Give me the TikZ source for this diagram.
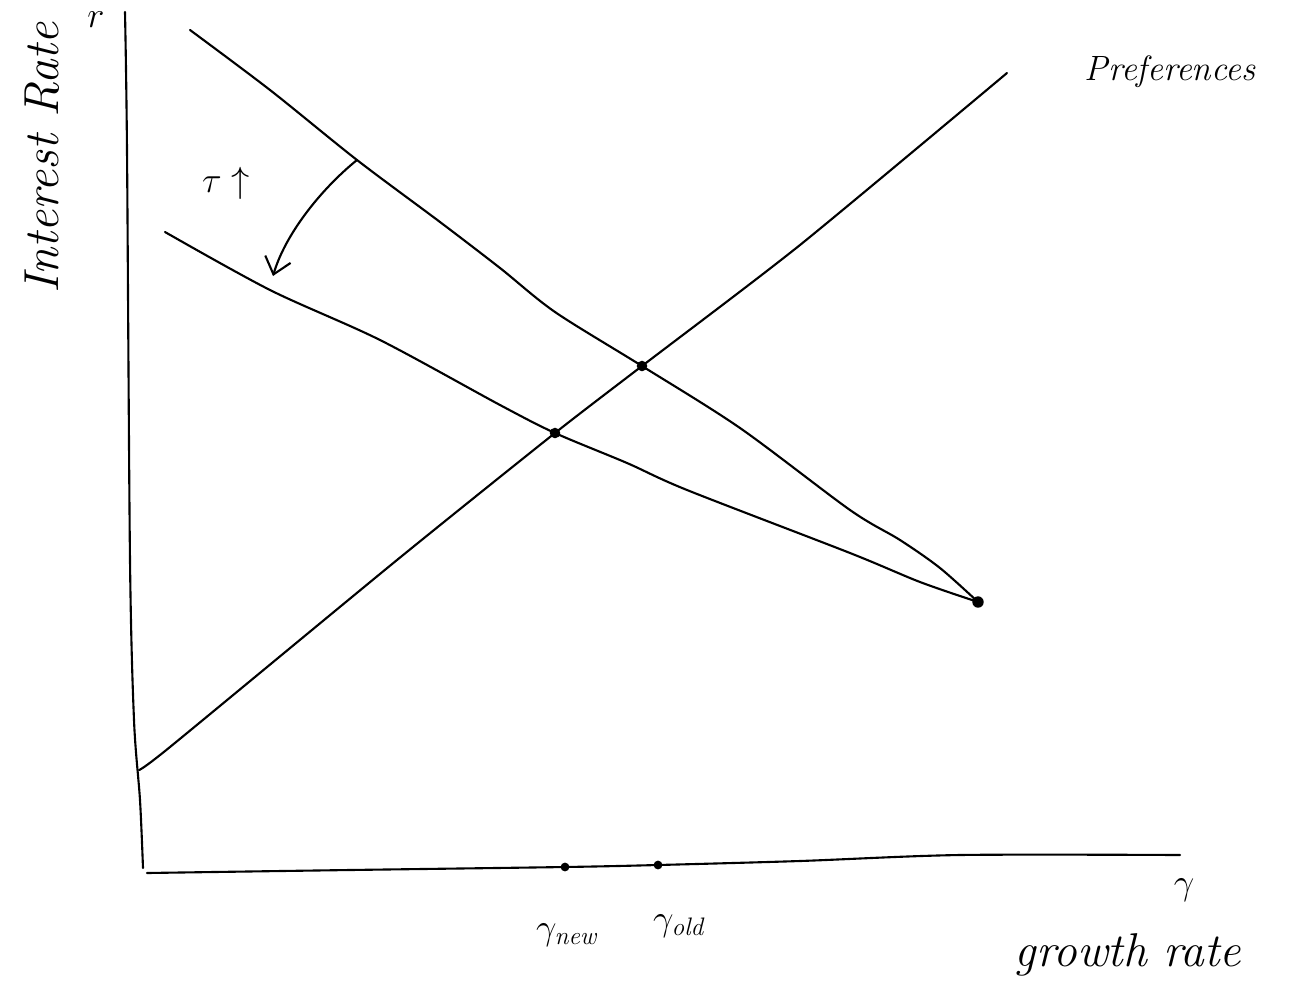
\documentclass[tikz,border=0pt]{standalone}
\usetikzlibrary{arrows.meta}
\begin{document}
\begin{tikzpicture}[x=0.02cm,y=-0.02cm,
  curve/.style={line width=1.2pt,line cap=round,line join=round},
  dotnode/.style={circle,fill=black,inner sep=0pt,minimum size=6pt},
  lbl/.style={font=\fontsize{20}{24}\selectfont\itshape},
  sym/.style={font=\fontsize{22}{26}\selectfont}]
\useasboundingbox (0,0) rectangle (1291,994);
% equilibrium points
\node[dotnode] (eqnew) at (555,433) {};
\node[dotnode] (eqold) at (642,366) {};
\node[dotnode,minimum size=6.5pt] (corner) at (978,602) {};
\node[dotnode,minimum size=5pt] (gnew) at (565,867) {};
\node[dotnode,minimum size=5pt] (gold) at (658,865) {};
% axes
\draw[curve] plot[smooth,tension=0.5] coordinates {(125,12) (127,150) (130,560) (134,720) (140,800) (143,868)};
\draw[curve] plot[smooth,tension=0.5] coordinates {(147,873) (350,870) (565,867) (658,865) (800,861) (960,855) (1180,855)};
% upward line
\draw[curve] plot[smooth,tension=0.4] coordinates {(139,770) (170,747) (397,560) (555,433) (642,366) (800,245) (1007,73)};
% upper downward curve
\draw[curve] plot[smooth,tension=0.5] coordinates {(190,30) (270,90) (357,160) (440,222) (500,268) (555,312) (642,366) (740,428) (850,510) (900,540) (940,568) (978,602)};
% lower downward curve
\draw[curve] plot[smooth,tension=0.5] coordinates {(165,232) (270,290) (380,340) (500,405) (555,433) (627,463) (687,490) (850,553) (920,582) (978,602)};
% shift arrow
\coordinate (astart) at (357,160);
\coordinate (aend) at (273,276);
\draw[curve,-{Straight Barb[length=9pt,width=15pt,line width=1.2pt]}] (astart) .. controls (320,190) and (285,235) .. (aend);
% labels
\node[sym] (tau) at (226,183) {$\tau\uparrow$};
\node[lbl,rotate=90,font=\fontsize{28}{32}\selectfont\itshape] (ylab) at (42,158) {Interest Rate};
\node[sym] (rlab) at (96,20) {$r$};
\node[lbl] (pref) at (1170,72) {Preferences};
\node[sym] (lnew) at (568,935) {$\gamma_{\mathit{new}}$};
\node[sym] (lold) at (680,926) {$\gamma_{\mathit{old}}$};
\node[sym] (lg) at (1184,890) {$\gamma$};
\node[lbl,font=\fontsize{27}{31}\selectfont\itshape] (grow) at (1128,955) {growth rate};
\end{tikzpicture}
\end{document}
